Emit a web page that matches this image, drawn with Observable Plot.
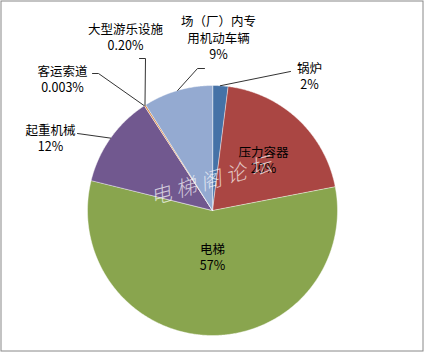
<!DOCTYPE html>
<html><head><meta charset="utf-8">
<script src="https://cdn.jsdelivr.net/npm/d3@7"></script>
<script src="https://cdn.jsdelivr.net/npm/@observablehq/plot@0.6"></script>
<style>body{margin:0;background:#fff}</style>
</head><body><div id="chart"></div>
<script>
const categories = ["锅炉","压力容器","电梯","起重机械","客运索道","大型游乐设施","场（厂）内专\n用机动车辆"];
const values = [2, 20, 57, 12, 0.003, 0.2, 9];
const pctLabels = ["2%","20%","57%","12%","0.003%","0.20%","9%"];
const colors = ["#4572A7","#AA4643","#89A54E","#71588F","#4198AF","#DB843D","#94AAD1"];
const watermark = "电梯阁论坛";

// layout (pixels)
const W = 424, H = 352, CX = 212, CY = 210, R = 125;
const labelLayout = [
  {pos:[309,75.5], leader:[[290,71]]},
  {pos:[263,159.5], leader:null},
  {pos:[212,256], leader:null},
  {pos:[50,137], leader:[[77,133]]},
  {pos:[62,78], leader:[[98,73],[92,73]]},
  {pos:[125,36.5], leader:[[145,58],[139,58]]},
  {pos:[218,37], leader:[[197,68],[204,68]]}
];
const px = x => (x - CX) / R, py = y => (CY - y) / R;

const total = d3.sum(values);
let acc = 0;
const slices = categories.map((c, i) => {
  const a0 = acc / total * 2 * Math.PI; acc += values[i];
  const a1 = acc / total * 2 * Math.PI;
  return {name: c, i, a0, a1, mid: (a0 + a1) / 2};
});
const polyPts = [];
for (const s of slices) {
  polyPts.push({name: s.name, x: 0, y: 0});
  const n = Math.max(2, Math.ceil((s.a1 - s.a0) / (Math.PI / 360)));
  for (let k = 0; k <= n; k++) {
    const a = s.a0 + (s.a1 - s.a0) * k / n;
    polyPts.push({name: s.name, x: Math.sin(a), y: Math.cos(a)});
  }
}
const leaderPts = [];
slices.forEach((s, i) => {
  const L = labelLayout[i].leader;
  if (!L) return;
  leaderPts.push({k: i, x: Math.sin(s.mid), y: Math.cos(s.mid)});
  for (const p of L) leaderPts.push({k: i, x: px(p[0]), y: py(p[1])});
});
const labels = slices.map((s, i) => ({
  text: s.name + "\n" + pctLabels[i],
  x: px(labelLayout[i].pos[0]), y: py(labelLayout[i].pos[1])
}));

const chart = Plot.plot({
  width: W, height: H, margin: 0,
  x: {domain: [-1, 1], range: [CX - R, CX + R], axis: null},
  y: {domain: [-1, 1], range: [CY + R, CY - R], axis: null},
  color: {domain: categories, range: colors},
  style: {fontFamily: "'Noto Sans CJK SC', 'Noto Sans', sans-serif", background: "#fff"},
  marks: [
    Plot.line(polyPts, {x: "x", y: "y", z: "name", fill: "name", stroke: "#fff", strokeOpacity: 0.75, strokeWidth: 0.6, curve: "linear-closed"}),
    Plot.line(leaderPts, {x: "x", y: "y", z: "k", stroke: "#333", strokeWidth: 1}),
    Plot.text(labels, {x: "x", y: "y", text: "text", fontSize: 12.5, lineHeight: 1.3, fill: "#000"}),
    Plot.text([watermark], {x: px(213), y: py(180), text: d => d, rotate: -16, fontSize: 21, fill: "#fff", fillOpacity: 0.7, fontStyle: "italic", fontWeight: 300}),
    Plot.frame({stroke: "#888", insetLeft: 0.5, insetTop: 0.5, insetRight: 1.5, insetBottom: 1.5})
  ]
});
chart.querySelectorAll("text").forEach(t => { if (t.textContent === watermark) t.setAttribute("letter-spacing", "5"); });
document.getElementById("chart").append(chart);
</script>
</body></html>
